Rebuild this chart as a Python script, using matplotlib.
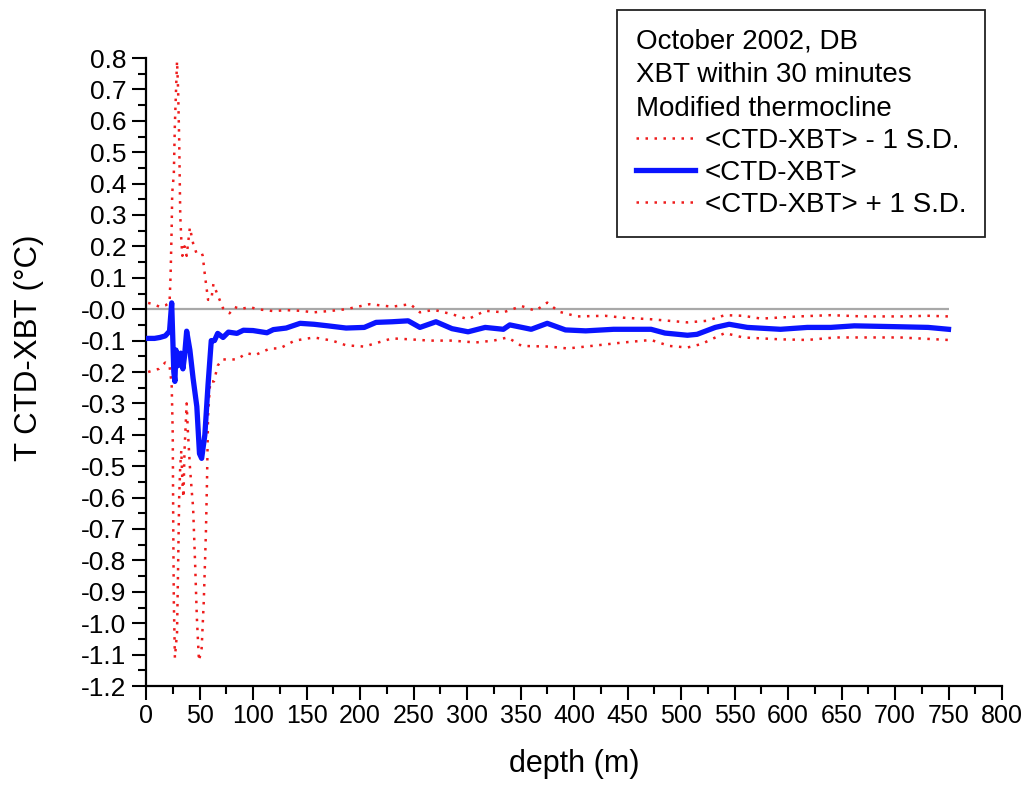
import numpy as np
import matplotlib
matplotlib.use("Agg")
import matplotlib.pyplot as plt
from matplotlib.ticker import MultipleLocator, FormatStrFormatter

plt.rcParams['font.family'] = ['Liberation Sans', 'DejaVu Sans']
plt.rcParams['axes.unicode_minus'] = False

# ── data ─────────────────────────────────────────────────────────────
depth_mean = [2, 8, 13, 18, 22, 24, 26, 27, 28, 30, 32.5, 34.5, 36, 38, 41,
              44, 47.5, 50, 52, 55, 58, 61, 64, 67, 72, 77, 85, 91, 100, 113,
              119, 131, 144, 157, 170, 187, 204, 215, 230, 245, 256, 271, 286,
              301, 317, 334, 340, 360, 375, 392, 411, 437, 455, 472, 485, 506,
              515, 532, 545, 562, 593, 618, 640, 662, 705, 731, 750]
mean_diff = [-0.093, -0.093, -0.09, -0.085, -0.07, 0.02, -0.2, -0.23, -0.13,
             -0.18, -0.14, -0.19, -0.15, -0.07, -0.13, -0.22, -0.31, -0.46,
             -0.475, -0.40, -0.24, -0.10, -0.10, -0.077, -0.09, -0.073, -0.077,
             -0.067, -0.068, -0.075, -0.065, -0.06, -0.045, -0.048, -0.053,
             -0.06, -0.058, -0.042, -0.04, -0.037, -0.058, -0.04, -0.062,
             -0.072, -0.058, -0.064, -0.05, -0.064, -0.045, -0.066, -0.069,
             -0.064, -0.064, -0.064, -0.076, -0.083, -0.08, -0.058, -0.048,
             -0.058, -0.064, -0.058, -0.058, -0.053, -0.056, -0.058, -0.064]

depth_hi = [2, 8, 13, 18, 22, 23, 24, 24.5, 26, 27, 29, 30, 31, 32, 33, 34, 36,
            38, 41, 44, 47, 52, 53, 55, 58, 61, 63, 67, 72, 78, 83, 88, 97, 104,
            119, 131, 144, 157, 174, 187, 209, 230, 247, 256, 269, 286, 301,
            317, 334, 351, 364, 375, 386, 403, 429, 446, 472, 489, 506, 524,
            541, 558, 575, 610, 640, 670, 705, 731, 750]
plus_sd = [0.02, 0.015, 0.007, 0.012, 0.02, 0.11, 0.26, 0.37, 0.43, 0.59, 0.79,
           0.70, 0.54, 0.3, 0.22, 0.17, 0.2, 0.17, 0.26, 0.21, 0.18, 0.18, 0.17,
           0.11, 0.03, 0.03, 0.08, 0.045, 0.003, -0.013, 0.007, 0.0, 0.007, 0.0,
           -0.006, -0.003, -0.005, -0.01, -0.005, 0.0, 0.016, 0.008, 0.016,
           -0.01, -0.002, -0.016, -0.032, -0.005, -0.01, 0.01, -0.005, 0.021,
           -0.008, -0.023, -0.021, -0.027, -0.032, -0.037, -0.042, -0.037,
           -0.019, -0.021, -0.03, -0.023, -0.019, -0.023, -0.023, -0.021, -0.023]

depth_lo = [2, 12, 18, 22, 24, 25, 25.5, 26, 27, 29, 30, 31, 32, 33, 34, 35, 36,
            38, 39, 41, 43, 44, 46, 47.5, 49.5, 52, 54, 56, 57, 58, 60, 63.5, 67,
            71, 77, 85, 94, 102, 116, 125, 139, 157, 174, 187, 204, 217, 230,
            247, 265, 286, 308, 325, 338, 351, 377, 394, 411, 446, 472, 489,
            506, 519, 541, 558, 593, 618, 644, 670, 705, 750]
minus_sd = [-0.2, -0.19, -0.17, -0.18, -0.24, -0.40, -0.71, -0.93, -1.11, -1.03,
            -0.82, -0.6, -0.5, -0.45, -0.55, -0.6, -0.45, -0.30, -0.38, -0.5,
            -0.59, -0.63, -0.82, -0.98, -1.12, -1.08, -0.93, -0.71, -0.55, -0.34,
            -0.23, -0.23, -0.18, -0.16, -0.16, -0.16, -0.14, -0.146, -0.125,
            -0.125, -0.1, -0.09, -0.10, -0.115, -0.119, -0.106, -0.093, -0.096,
            -0.10, -0.10, -0.106, -0.10, -0.09, -0.117, -0.119, -0.125, -0.119,
            -0.106, -0.098, -0.117, -0.122, -0.111, -0.076, -0.09, -0.096,
            -0.098, -0.09, -0.09, -0.09, -0.098]

legend_title = "October 2002, DB\nXBT within 30 minutes\nModified thermocline"

# ── figure ───────────────────────────────────────────────────────────
fig = plt.figure(figsize=(10.23, 7.87), dpi=100)
ax = fig.add_axes([146/1023, 1-686/787, (1002-146)/1023, (686-58)/787])

ax.hlines(0, 0, depth_mean[-1], color="#a8a8a8", lw=1.6, zorder=1)
dots = (0, (1, 2.6))
l_lo, = ax.plot(depth_lo, minus_sd, color="#ee1c1c", lw=1.8, ls=dots,
                label="<CTD-XBT> - 1 S.D.", zorder=2)
l_mean, = ax.plot(depth_mean, mean_diff, color="#0a14ff", lw=3.8,
                  label="<CTD-XBT>", zorder=3)
l_hi, = ax.plot(depth_hi, plus_sd, color="#ee1c1c", lw=1.8, ls=dots,
                label="<CTD-XBT> + 1 S.D.", zorder=2)

ax.set_xlim(0, 800)
ax.set_ylim(-1.2, 0.8)
ax.xaxis.set_major_locator(MultipleLocator(50))
ax.xaxis.set_minor_locator(MultipleLocator(25))
ax.yaxis.set_major_locator(MultipleLocator(0.1))
ax.yaxis.set_minor_locator(MultipleLocator(0.05))
ax.yaxis.set_major_formatter(FormatStrFormatter("%.1f"))

for side in ("top", "right"):
    ax.spines[side].set_visible(False)
for side in ("left", "bottom"):
    ax.spines[side].set_linewidth(1.6)

ax.tick_params(which="major", direction="out", length=10, width=1.5, pad=4)
ax.tick_params(which="minor", direction="out", length=6, width=1.5)
ax.tick_params(axis="y", labelsize=19)
ax.tick_params(axis="x", labelsize=18, pad=3)

ax.set_xlabel("depth (m)", fontsize=22, labelpad=15)
ax.set_ylabel("T CTD-XBT (\u00b0C)", fontsize=22.5)
ax.yaxis.set_label_coords((44 - 146) / 856, (686 - 348) / 628)

leg = ax.legend(handles=[l_lo, l_mean, l_hi], title=legend_title,
                loc="upper right", bbox_to_anchor=(985/1023, 1-10/787),
                bbox_transform=fig.transFigure, borderaxespad=0,
                fancybox=False, edgecolor="#222222", framealpha=1,
                fontsize=20, title_fontsize=20, alignment="left",
                handlelength=2.1, handletextpad=0.36, labelspacing=0.22,
                borderpad=0.68)
leg.get_frame().set_linewidth(1.3)
leg.get_title().set_linespacing(1.37)

fig.savefig("out.png", dpi=100)
